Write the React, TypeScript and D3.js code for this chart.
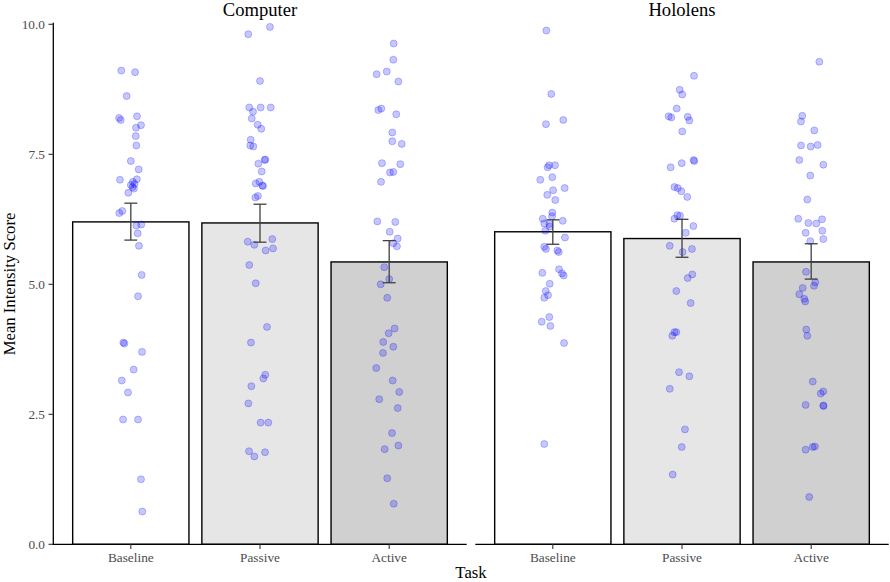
import React from "react";
import * as d3 from "d3";

const panels = ["Computer", "Hololens"];
const tasks = ["Baseline", "Passive", "Active"];
const yTicks = [0, 2.5, 5, 7.5, 10];

const meanComputer = [6.2, 6.18, 5.43];
const meanHololens = [6.01, 5.88, 5.43];
const lowComputer = [5.85, 5.81, 5.03];
const highComputer = [6.56, 6.54, 5.84];
const lowHololens = [5.77, 5.52, 5.1];
const highHololens = [6.24, 6.25, 5.78];

// individual scores and horizontal jitter (in category units)
const compBaselineScores = [9.11, 9.08, 8.62, 8.2, 8.16, 8.23, 8.06, 8.01, 7.85, 7.67, 7.37, 7.21, 7.01, 7.02, 6.97, 6.93, 6.91, 6.87, 6.84, 6.76, 6.37, 6.41, 6.13, 6.15, 5.98, 5.74, 5.18, 4.77, 3.88, 3.86, 3.7, 3.36, 3.15, 2.92, 2.4, 2.4, 1.25, 0.63];
const compBaselineJitter = [-0.074, 0.033, -0.032, -0.091, -0.078, 0.048, 0.079, 0.04, 0.038, 0.043, 0.0, 0.061, -0.084, 0.047, 0.016, 0.029, 0.0, 0.013, 0.024, -0.019, -0.089, -0.066, 0.043, 0.081, 0.053, 0.063, 0.084, 0.056, -0.058, -0.05, 0.087, 0.022, -0.07, -0.022, -0.06, 0.056, 0.079, 0.089];

const compPassiveScores = [9.81, 9.95, 8.91, 8.4, 8.32, 8.4, 8.4, 8.19, 8.07, 7.99, 7.78, 7.67, 7.65, 7.39, 7.4, 7.32, 7.17, 6.94, 6.97, 6.9, 6.89, 6.7, 6.67, 5.82, 5.76, 5.87, 5.65, 5.69, 5.37, 5.02, 4.18, 3.88, 3.26, 3.19, 3.04, 2.71, 2.34, 2.34, 1.79, 1.69, 1.77];
const compPassiveJitter = [-0.091, 0.077, 0.0, -0.083, -0.054, 0.005, 0.083, -0.064, -0.018, 0.01, -0.072, -0.075, -0.052, 0.036, 0.041, -0.013, 0.013, -0.033, -0.005, 0.018, 0.023, -0.016, -0.036, -0.095, -0.044, 0.095, 0.044, 0.101, -0.083, -0.033, 0.054, -0.07, 0.041, 0.026, -0.067, -0.09, 0.005, 0.064, -0.085, -0.044, 0.039];

const compActiveScores = [9.63, 9.32, 9.09, 9.04, 8.9, 8.35, 8.38, 8.27, 7.92, 7.75, 7.7, 7.33, 7.31, 7.15, 7.16, 6.97, 6.21, 6.2, 6.01, 5.88, 5.79, 5.73, 5.33, 5.1, 5.0, 4.74, 4.15, 4.06, 3.89, 3.8, 3.68, 3.39, 3.15, 2.93, 2.79, 2.62, 2.14, 1.9, 1.83, 1.27, 0.78];
const compActiveJitter = [0.035, 0.032, -0.019, -0.097, 0.071, -0.084, -0.061, 0.055, 0.024, 0.024, 0.097, -0.056, 0.086, 0.006, 0.032, -0.063, -0.092, 0.047, 0.004, 0.066, 0.032, 0.06, -0.038, 0.0, -0.066, -0.015, 0.042, -0.004, -0.046, 0.032, -0.048, -0.1, 0.027, 0.078, -0.077, 0.066, 0.022, 0.071, -0.035, -0.015, 0.035];

const holoBaselineScores = [9.88, 8.66, 8.08, 8.16, 7.29, 7.25, 7.29, 7.01, 7.06, 6.85, 6.81, 6.72, 6.62, 6.38, 6.31, 6.26, 6.17, 6.16, 6.22, 6.03, 6.11, 5.9, 5.72, 5.68, 5.65, 5.62, 5.22, 5.29, 5.21, 5.17, 5.01, 4.87, 4.79, 4.74, 4.37, 4.28, 4.2, 3.87, 1.93];
const holoBaselineJitter = [-0.05, -0.012, -0.053, 0.081, -0.029, -0.04, 0.017, -0.097, -0.004, 0.092, 0.002, -0.043, 0.019, -0.004, -0.006, -0.078, -0.066, -0.027, 0.077, -0.058, -0.024, 0.094, -0.066, -0.053, 0.035, 0.046, -0.081, 0.048, 0.071, 0.084, -0.024, -0.055, -0.037, -0.066, -0.027, -0.086, -0.019, 0.087, -0.066];

const holoPassiveScores = [9.01, 8.74, 8.65, 8.38, 8.23, 8.21, 8.22, 8.15, 7.94, 7.25, 7.33, 7.39, 7.37, 6.87, 6.85, 6.79, 6.68, 6.33, 6.32, 6.26, 6.12, 5.99, 5.74, 5.62, 5.68, 5.19, 5.12, 4.87, 4.64, 4.08, 4.08, 4.01, 3.31, 3.23, 2.99, 2.21, 1.87, 1.34];
const holoPassiveJitter = [0.093, -0.018, 0.002, -0.041, -0.103, -0.083, 0.044, 0.057, 0.002, -0.088, -0.002, 0.09, 0.095, -0.059, -0.033, -0.005, 0.041, -0.036, -0.015, -0.059, 0.088, 0.029, -0.095, 0.005, 0.077, 0.08, 0.044, -0.044, 0.067, -0.059, -0.044, -0.075, -0.023, 0.057, -0.095, 0.023, -0.002, -0.072];

const holoActiveScores = [9.28, 8.24, 8.13, 7.96, 7.67, 7.65, 7.68, 7.39, 7.3, 7.09, 6.63, 6.26, 6.18, 6.17, 6.25, 5.99, 6.03, 5.83, 5.87, 5.24, 5.04, 4.97, 4.93, 4.81, 4.72, 4.67, 4.13, 4.01, 3.13, 2.94, 2.9, 2.68, 2.67, 2.66, 1.82, 1.87, 1.88, 0.91];
const holoActiveJitter = [0.063, -0.069, -0.079, 0.024, -0.079, -0.004, 0.05, -0.092, 0.094, -0.007, -0.03, -0.1, -0.022, 0.039, 0.084, -0.043, 0.086, -0.007, 0.094, -0.04, 0.032, 0.022, -0.066, -0.092, -0.053, -0.046, -0.038, -0.03, 0.012, 0.094, 0.074, -0.043, 0.094, 0.096, -0.043, 0.012, 0.029, -0.015];

const barFills = ["#ffffff", "#e6e6e6", "#d0d0d0"];

const panelData = [
  {
    name: panels[0],
    means: meanComputer,
    lows: lowComputer,
    highs: highComputer,
    scores: [compBaselineScores, compPassiveScores, compActiveScores],
    jitter: [compBaselineJitter, compPassiveJitter, compActiveJitter],
  },
  {
    name: panels[1],
    means: meanHololens,
    lows: lowHololens,
    highs: highHololens,
    scores: [holoBaselineScores, holoPassiveScores, holoActiveScores],
    jitter: [holoBaselineJitter, holoPassiveJitter, holoActiveJitter],
  },
];

const W = 890;
const H = 582;
const FONT = "'Liberation Serif', 'Times New Roman', serif";
const panelRanges: [number, number][] = [
  [53.3, 466.7],
  [475.3, 888.7],
];

export default function App() {
  const y = d3.scaleLinear().domain([0, 10]).range([544.3, 24.3]);
  const y0 = y(0);

  return (
    <svg
      width={W}
      height={H}
      style={{ position: "absolute", left: 0, top: 0, background: "#fff" }}
      fontFamily={FONT}
    >
      <rect x={0} y={0} width={W} height={H} fill="#fff" />
      {/* y axis */}
      <line x1={53.3} x2={53.3} y1={22.7} y2={y0 + 0.6} stroke="#000" strokeWidth={1.3} />
      {yTicks.map((t) => (
        <g key={t}>
          <line x1={48.5} x2={53.3} y1={y(t)} y2={y(t)} stroke="#333" strokeWidth={1.1} />
          <text
            x={45}
            y={y(t)}
            textAnchor="end"
            dominantBaseline="central"
            fontSize={13.3}
            fill="#4d4d4d"
          >
            {d3.format(".1f")(t)}
          </text>
        </g>
      ))}
      <text
        transform={`translate(9.5,284) rotate(-90)`}
        textAnchor="middle"
        dominantBaseline="central"
        fontSize={16.7}
        fill="#000"
      >
        Mean Intensity Score
      </text>
      <text x={471} y={572.5} textAnchor="middle" dominantBaseline="central" fontSize={16.7} fill="#000">
        Task
      </text>

      {panelData.map((p, pi) => {
        const x = d3.scalePoint<string>().domain(tasks).range(panelRanges[pi]).padding(0.6);
        const step = x.step();
        const bw = step * 0.9;
        const cap = step * 0.05;
        const mid = (panelRanges[pi][0] + panelRanges[pi][1]) / 2;
        return (
          <g key={p.name}>
            <text
              x={mid}
              y={9.5}
              textAnchor="middle"
              dominantBaseline="central"
              fontSize={18.6}
              fill="#000"
            >
              {p.name}
            </text>
            {tasks.map((t, ti) => {
              const xc = x(t) as number;
              return (
                <rect
                  key={t}
                  x={xc - bw / 2}
                  y={y(p.means[ti])}
                  width={bw}
                  height={y0 - y(p.means[ti])}
                  fill={barFills[ti]}
                  stroke="#000"
                  strokeWidth={1.4}
                />
              );
            })}
            {tasks.map((t, ti) => {
              const xc = x(t) as number;
              return (
                <g key={t + "pts"}>
                  {p.scores[ti].map((v, k) => (
                    <circle
                      key={k}
                      cx={xc + p.jitter[ti][k] * step}
                      cy={y(v)}
                      r={3.5}
                      fill="#0000ff"
                      fillOpacity={0.22}
                      stroke="#0000ff"
                      strokeOpacity={0.3}
                      strokeWidth={0.8}
                    />
                  ))}
                </g>
              );
            })}
            {tasks.map((t, ti) => {
              const xc = x(t) as number;
              const lo = y(p.lows[ti]);
              const hi = y(p.highs[ti]);
              return (
                <g key={t + "err"} stroke="#404040" strokeWidth={1.3}>
                  <line x1={xc} x2={xc} y1={lo} y2={hi} />
                  <line x1={xc - cap} x2={xc + cap} y1={lo} y2={lo} />
                  <line x1={xc - cap} x2={xc + cap} y1={hi} y2={hi} />
                </g>
              );
            })}
            {/* x axis */}
            <line
              x1={panelRanges[pi][0] - (pi === 0 ? 0.6 : 0)}
              x2={panelRanges[pi][1]}
              y1={y0}
              y2={y0}
              stroke="#000"
              strokeWidth={1.3}
            />
            {tasks.map((t) => {
              const xc = x(t) as number;
              return (
                <g key={t + "tick"}>
                  <line x1={xc} x2={xc} y1={y0} y2={y0 + 4.8} stroke="#333" strokeWidth={1.1} />
                  <text
                    x={xc}
                    y={557.5}
                    textAnchor="middle"
                    dominantBaseline="central"
                    fontSize={13.3}
                    fill="#4d4d4d"
                  >
                    {t}
                  </text>
                </g>
              );
            })}
          </g>
        );
      })}
    </svg>
  );
}
